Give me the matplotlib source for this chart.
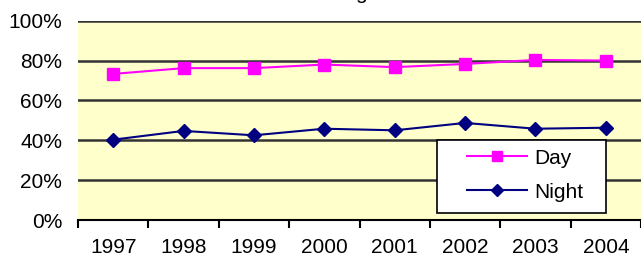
import matplotlib
matplotlib.use("Agg")
import matplotlib.pyplot as plt
from matplotlib.ticker import FixedLocator, FuncFormatter
from matplotlib.patches import Rectangle

years = ["1997", "1998", "1999", "2000", "2001", "2002", "2003", "2004"]
day = [73.3, 76.2, 76.2, 78.0, 76.7, 78.3, 80.3, 80.0]
night = [40.3, 44.7, 42.5, 45.8, 45.0, 48.7, 45.8, 46.3]
y_ticks = [0, 20, 40, 60, 80, 100]

plt.rcParams['font.family'] = ['Liberation Sans', 'DejaVu Sans']

W, H = 641, 256
fig = plt.figure(figsize=(W / 100, H / 100), dpi=100)
ax_l, ax_t, ax_b = 78, 20.7, 220
ax = fig.add_axes([ax_l / W, 1 - ax_b / H, (W - ax_l) / W, (ax_b - ax_t) / H])
ax.set_facecolor('#FFFFCC')

x = list(range(len(years)))
ax.plot(x, day, color='#FF00FF', lw=1.5, marker='s', ms=8, mec='#FF00FF', mfc='#FF00FF', label='Day', zorder=3)
ax.plot(x, night, color='#000080', lw=1.5, marker='D', ms=7, mec='#000080', mfc='#000080', label='Night', zorder=3)

ax.set_xlim(-0.5, len(years) - 0.5)
ax.set_ylim(0, 100)
ax.set_yticks(y_ticks)
ax.yaxis.set_major_formatter(FuncFormatter(lambda v, p: f"{int(v)}%"))
for yv in y_ticks[1:]:
    ax.axhline(yv, color='#333333', lw=1.8, zorder=1)

ax.set_xticks(x)
ax.set_xticklabels(years)
ax.xaxis.set_minor_locator(FixedLocator([i - 0.5 for i in range(len(years) + 1)]))
ax.tick_params(axis='x', which='major', length=0, pad=13, labelsize=15)
ax.tick_params(axis='x', which='minor', length=6, width=1.5, color='black', direction='out')
ax.tick_params(axis='y', length=0, pad=11.5, labelsize=15)

for s in ['left', 'right', 'top']:
    ax.spines[s].set_visible(False)
ax.spines['bottom'].set_color('black')
ax.spines['bottom'].set_linewidth(1.5)

# legend box (pixels -> axes fraction)
aw, ah = W - ax_l, ax_b - ax_t
bx0, bx1, by0, by1 = 437, 606, 140, 213
box = Rectangle(((bx0 - ax_l) / aw, (ax_b - by1) / ah), (bx1 - bx0) / aw, (by1 - by0) / ah,
                transform=ax.transAxes, facecolor='white', edgecolor='black', lw=1.2, zorder=4)
ax.add_patch(box)
leg = ax.legend(loc='center left', bbox_to_anchor=((467 - ax_l) / aw, (ax_b - 175) / ah),
                fontsize=15, frameon=False, handlelength=2.9, handletextpad=0.35,
                borderaxespad=0, borderpad=0, labelspacing=0.72, markerscale=0.9)
leg.set_zorder(5)

# partially visible chart title above the figure edge
fig.text(361 / W, 1 + 1 / H, "g", ha='center', va='baseline', fontsize=15)

fig.savefig("out.png", dpi=100)
